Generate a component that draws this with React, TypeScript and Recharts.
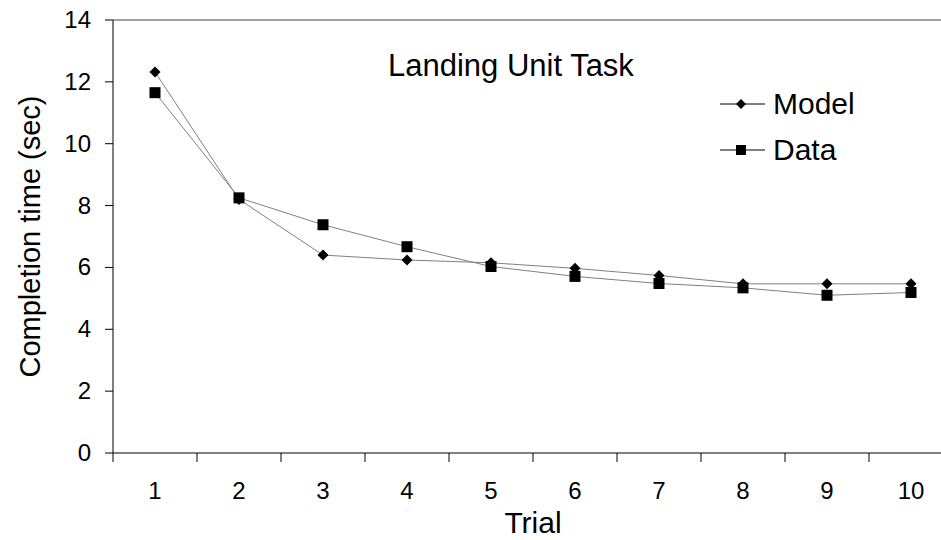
import React from 'react';
import { LineChart, Line, XAxis, YAxis, ReferenceLine } from 'recharts';

const trials = ['1', '2', '3', '4', '5', '6', '7', '8', '9', '10'];
const modelValues = [12.32, 8.2, 6.4, 6.24, 6.15, 5.97, 5.74, 5.47, 5.47, 5.47];
const dataValues = [11.65, 8.25, 7.38, 6.67, 6.03, 5.71, 5.48, 5.34, 5.1, 5.19];
const yTicks = [0, 2, 4, 6, 8, 10, 12, 14];

const chartData = trials.map((t, i) => ({ trial: t, model: modelValues[i], data: dataValues[i] }));

const FONT = '"Liberation Sans", Arial, sans-serif';
const LINE_COLOR = '#808080';

const Diamond = (props: any) => {
  const { cx, cy } = props;
  if (cx == null || cy == null) return null;
  const r = 5.5;
  return <path d={`M${cx},${cy - r}L${cx + r},${cy}L${cx},${cy + r}L${cx - r},${cy}Z`} fill="#000" />;
};

const Square = (props: any) => {
  const { cx, cy } = props;
  if (cx == null || cy == null) return null;
  const s = 11;
  return <rect x={cx - s / 2} y={cy - s / 2} width={s} height={s} fill="#000" />;
};

const XTick = (props: any) => {
  const { x, y, payload, width, visibleTicksCount } = props;
  const half = width / (2 * (visibleTicksCount || trials.length));
  return (
    <g>
      <line x1={x - half} y1={y} x2={x - half} y2={y + 9} stroke="#000" strokeWidth={1} />
      <text x={x} y={y + 46} textAnchor="middle" fill="#000" fontSize={24} fontFamily={FONT}>
        {payload.value}
      </text>
    </g>
  );
};

const YTick = (props: any) => {
  const { x, y, payload } = props;
  return (
    <text x={x} y={y + 8} textAnchor="end" fill="#000" fontSize={24} fontFamily={FONT}>
      {payload.value}
    </text>
  );
};

const legendItems = [
  { name: 'Model', marker: 'diamond' },
  { name: 'Data', marker: 'square' },
];

export default function App() {
  return (
    <div style={{ position: 'absolute', left: 0, top: 0, width: 941, height: 540, background: '#fff', overflow: 'hidden' }}>
      <LineChart
        width={941}
        height={540}
        data={chartData}
        margin={{ top: 20, right: -12, left: 0, bottom: 0 }}
        style={{ fontFamily: FONT }}
      >
        <ReferenceLine y={14} stroke={LINE_COLOR} strokeWidth={1.5} />
        <XAxis
          dataKey="trial"
          scale="band"
          height={87}
          tickSize={0}
          tickMargin={0}
          tickLine={false}
          stroke="#000"
          interval={0}
          tick={<XTick />}
          label={{ value: 'Trial', position: 'insideBottom', offset: 7, fontSize: 30, fill: '#000', fontFamily: FONT }}
        />
        <YAxis
          width={113}
          domain={[0, 14]}
          ticks={yTicks}
          interval={0}
          tickSize={8}
          tickMargin={14}
          stroke="#000"
          tick={<YTick />}
          label={{ value: 'Completion time (sec)', angle: -90, position: 'center', dx: -27, fontSize: 29, fill: '#000', fontFamily: FONT }}
        />
        <Line
          type="linear"
          dataKey="model"
          name="Model"
          stroke={LINE_COLOR}
          strokeWidth={1}
          dot={<Diamond />}
          activeDot={false}
          isAnimationActive={false}
        />
        <Line
          type="linear"
          dataKey="data"
          name="Data"
          stroke={LINE_COLOR}
          strokeWidth={1}
          dot={<Square />}
          activeDot={false}
          isAnimationActive={false}
        />
      </LineChart>
      <div
        style={{ position: 'absolute', left: 388, top: 48, fontFamily: FONT, fontSize: 31, color: '#000', whiteSpace: 'nowrap', lineHeight: '36px' }}
      >
        Landing Unit Task
      </div>
      <div style={{ position: 'absolute', left: 720, top: 81, fontFamily: FONT, fontSize: 30, color: '#000' }}>
        {legendItems.map((item) => (
          <div key={item.name} style={{ display: 'flex', alignItems: 'center', height: 46 }}>
            <svg width={50} height={20} style={{ marginRight: 3 }}>
              <line x1={0} y1={10} x2={45} y2={10} stroke="#000" strokeWidth={1} />
              {item.marker === 'diamond' ? (
                <path d="M21,5L26,10L21,15L16,10Z" fill="#000" />
              ) : (
                <rect x={16} y={5} width={10} height={10} fill="#000" />
              )}
            </svg>
            <span>{item.name}</span>
          </div>
        ))}
      </div>
    </div>
  );
}
